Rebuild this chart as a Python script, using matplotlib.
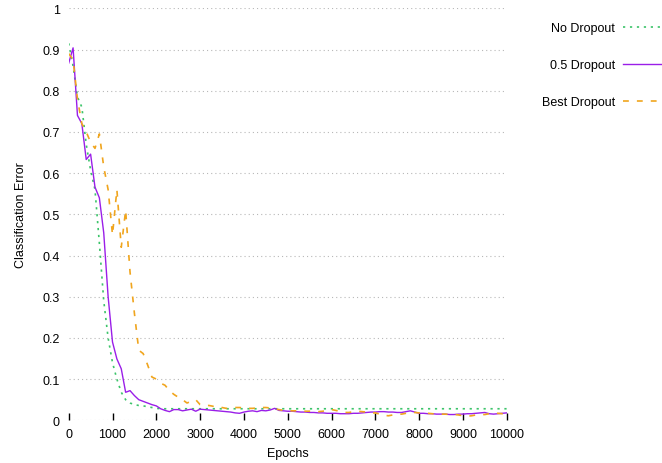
import matplotlib
matplotlib.use("Agg")
import matplotlib.pyplot as plt

plt.rcParams['font.family'] = ['Liberation Sans', 'DejaVu Sans']
plt.rcParams['font.size'] = 9
plt.rcParams['lines.scale_dashes'] = False

epochs = list(range(0, 10001, 100))

no_dropout = [
    0.915, 0.86, 0.785, 0.76, 0.67, 0.607, 0.56, 0.43, 0.29, 0.20,
    0.14, 0.10, 0.068, 0.05, 0.042, 0.038, 0.036, 0.035, 0.033, 0.031,
    0.029, 0.028, 0.028, 0.028, 0.028, 0.028, 0.028, 0.028, 0.028, 0.028,
    0.028, 0.028, 0.028, 0.028, 0.028, 0.028, 0.028, 0.028, 0.028, 0.028,
    0.028, 0.028, 0.028, 0.028, 0.028, 0.028, 0.028, 0.028, 0.028, 0.028,
    0.028, 0.028, 0.028, 0.028, 0.028, 0.028, 0.028, 0.028, 0.028, 0.028,
    0.028, 0.028, 0.028, 0.028, 0.028, 0.028, 0.028, 0.028, 0.028, 0.028,
    0.028, 0.028, 0.028, 0.028, 0.028, 0.028, 0.028, 0.028, 0.028, 0.028,
    0.028, 0.028, 0.028, 0.028, 0.028, 0.028, 0.028, 0.028, 0.028, 0.028,
    0.028, 0.028, 0.028, 0.028, 0.028, 0.028, 0.028, 0.028, 0.028, 0.028,
    0.028,
]

half_dropout = [
    0.867, 0.904, 0.74, 0.72, 0.633, 0.646, 0.566, 0.54, 0.455, 0.30,
    0.19, 0.149, 0.125, 0.068, 0.072, 0.06, 0.05, 0.046, 0.042, 0.038,
    0.035, 0.028, 0.024, 0.021, 0.026, 0.026, 0.023, 0.025, 0.027, 0.022,
    0.027, 0.026, 0.025, 0.024, 0.023, 0.022, 0.021, 0.020, 0.018, 0.017,
    0.020, 0.022, 0.023, 0.021, 0.024, 0.023, 0.025, 0.029, 0.024, 0.023,
    0.022, 0.022, 0.021, 0.020, 0.020, 0.019, 0.019, 0.018, 0.018, 0.017,
    0.017, 0.017, 0.016, 0.016, 0.016, 0.017, 0.017, 0.018, 0.019, 0.020,
    0.020, 0.021, 0.021, 0.020, 0.020, 0.019, 0.019, 0.021, 0.023, 0.020,
    0.017, 0.017, 0.016, 0.016, 0.015, 0.015, 0.015, 0.014, 0.014, 0.015,
    0.015, 0.016, 0.016, 0.017, 0.018, 0.019, 0.016, 0.015, 0.016, 0.017,
    0.018,
]

best_dropout = [
    0.89, 0.875, 0.78, 0.72, 0.70, 0.675, 0.66, 0.695, 0.615, 0.56,
    0.45, 0.56, 0.42, 0.51, 0.36, 0.26, 0.17, 0.162, 0.135, 0.105,
    0.10, 0.09, 0.085, 0.072, 0.063, 0.056, 0.05, 0.042, 0.046, 0.05,
    0.038, 0.035, 0.036, 0.034, 0.035, 0.031, 0.029, 0.030, 0.031, 0.031,
    0.030, 0.029, 0.029, 0.030, 0.031, 0.031, 0.030, 0.028, 0.026, 0.024,
    0.023, 0.023, 0.023, 0.023, 0.022, 0.022, 0.022, 0.021, 0.022, 0.024,
    0.026, 0.024, 0.021, 0.019, 0.019, 0.021, 0.022, 0.021, 0.020, 0.018,
    0.018, 0.015, 0.012, 0.011, 0.013, 0.015, 0.015, 0.017, 0.019, 0.019,
    0.018, 0.017, 0.017, 0.016, 0.015, 0.015, 0.015, 0.014, 0.014, 0.013,
    0.011, 0.010, 0.011, 0.013, 0.014, 0.014, 0.016, 0.017, 0.017, 0.016,
    0.016,
]

series_labels = ["No Dropout", "0.5 Dropout", "Best Dropout"]
x_ticks = list(range(0, 10001, 1000))
y_ticks = [0, 0.1, 0.2, 0.3, 0.4, 0.5, 0.6, 0.7, 0.8, 0.9, 1]
y_tick_labels = ["0", "0.1", "0.2", "0.3", "0.4", "0.5", "0.6", "0.7", "0.8", "0.9", "1"]

W, H = 662, 464
fig = plt.figure(figsize=(W / 100, H / 100), dpi=100)
ax = fig.add_axes([68.7 / W, 1 - 421.3 / H, (506.7 - 68.7) / W, (421.3 - 9.3) / H])

green = '#3cc46a'
purple = '#9a1ee8'
orange = '#f0a51e'

ax.plot(epochs, no_dropout, color=green, lw=1.2, dashes=(1.6, 3.4), label=series_labels[0])
ax.plot(epochs, half_dropout, color=purple, lw=1.0, label=series_labels[1])
ax.plot(epochs, best_dropout, color=orange, lw=1.2, dashes=(4.2, 5.8), label=series_labels[2])

ax.set_xlim(0, 10000)
ax.set_ylim(0, 1)
for s in ax.spines.values():
    s.set_visible(False)

ax.set_xticks(x_ticks)
ax.set_xticklabels([str(t) for t in x_ticks])
ax.set_yticks(y_ticks)
ax.set_yticklabels(y_tick_labels)
ax.tick_params(axis='x', direction='in', length=5, width=1, color='black', pad=5.5, labelsize=9)
ax.tick_params(axis='y', length=0, pad=6.5, labelsize=9)

for yv in y_ticks:
    ax.axhline(yv, color='#b8b8b8', lw=0.8, dashes=(0.8, 2.2), zorder=0)

ax.set_xlabel("Epochs", fontsize=9, labelpad=5)
ax.set_ylabel("Classification Error", fontsize=9, labelpad=11)

leg = ax.legend(loc='upper right', bbox_to_anchor=(1.0, 1 - 23 / H),
                bbox_transform=fig.transFigure, frameon=False, markerfirst=False,
                handlelength=3.1, handletextpad=0.65, labelspacing=2.0,
                borderpad=0, borderaxespad=0, fontsize=9)

fig.savefig("out.png", dpi=100)
